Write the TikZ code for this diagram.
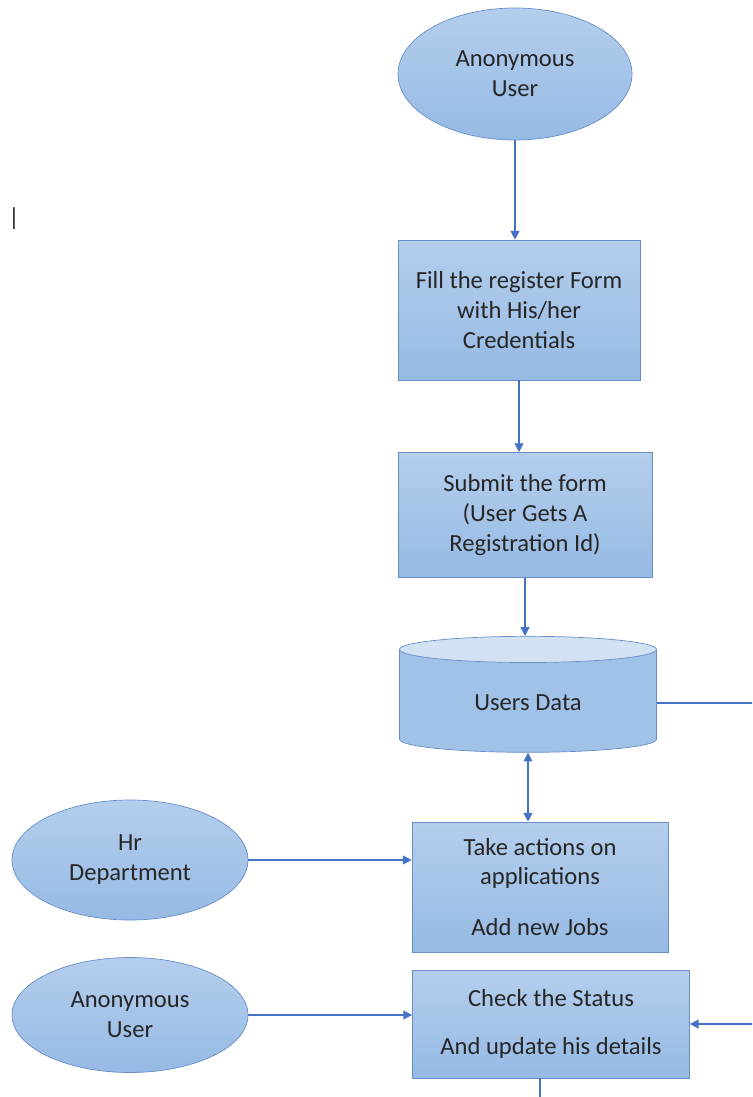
\documentclass[tikz,border=0pt]{standalone}
\usepackage{fontspec}
\setmainfont{Carlito}
\usepackage{xcolor}
\definecolor{flowblue}{RGB}{68,114,196}
\definecolor{boxline}{RGB}{104,142,200}
\definecolor{boxtop}{RGB}{180,206,236}
\definecolor{boxbot}{RGB}{150,186,228}
\definecolor{dbbody}{RGB}{160,194,232}
\definecolor{dbtop}{RGB}{210,226,243}
\definecolor{inkgrey}{RGB}{38,38,38}
\usetikzlibrary{shapes.geometric,arrows.meta,positioning,calc}
\tikzset{
  actor/.style={draw=boxline, ellipse, top color=boxtop, bottom color=boxbot, align=center, text=inkgrey},
  proc/.style={draw=boxline, rectangle, top color=boxtop, bottom color=boxbot, align=center, text=inkgrey},
  store/.style={draw=boxline, cylinder, shape border rotate=90, aspect=0.22, cylinder uses custom fill, cylinder body fill=dbbody, cylinder end fill=dbtop, align=center, text=inkgrey},
  arr/.style={-{Triangle[length=5pt,width=5pt]}, draw=flowblue, line width=0.9pt},
  darr/.style={{Triangle[length=5pt,width=5pt]}-{Triangle[length=5pt,width=5pt]}, draw=flowblue, line width=0.9pt},
  link/.style={draw=flowblue, line width=0.9pt}
}

\begin{document}
\begin{tikzpicture}[every node/.style={font=\fontsize{14}{17}\selectfont}]
  \useasboundingbox (0,0) rectangle (15.04,-21.94);
  \clip (0,0) rectangle (15.04,-21.94);
  \node[actor, minimum width=4.68cm, minimum height=2.64cm] (user) at (10.30,-1.48) {Anonymous\\User};
  \node[inkgrey, inner sep=0pt] (cursor) at (0.28,-4.38) {|};
  \node[proc, minimum width=4.84cm, minimum height=2.80cm] (fill) at (10.38,-6.20) {Fill the register Form\\with His/her\\Credentials};
  \node[proc, minimum width=5.08cm, minimum height=2.50cm] (submit) at (10.50,-10.30) {Submit the form\\(User Gets A\\Registration Id)};
  \node[store, minimum width=5.14cm, minimum height=2.32cm] (db) at (10.56,-14.06) {Users Data};
  \node[actor, minimum width=4.72cm, minimum height=2.40cm] (hr) at (2.60,-17.20) {Hr\\Department};
  \node[proc, minimum width=5.12cm, minimum height=2.60cm] (take) at (10.80,-17.74) {Take actions on\\applications\\[0.42cm]Add new Jobs};
  \node[actor, minimum width=4.72cm, minimum height=2.30cm] (anon) at (2.60,-20.30) {Anonymous\\User};
  \node[proc, minimum width=5.54cm, minimum height=2.16cm] (check) at (11.02,-20.48) {Check the Status\\[0.36cm]And update his details};
  \path (check.east) ++(1.6,0) coordinate (rim);
  \path ([xshift=-0.22cm]check.south) ++(0,-0.6) coordinate (out);
  \draw[arr] (user.south) -- (user.south |- fill.north);
  \draw[arr] (fill.south) -- (fill.south |- submit.north);
  \draw[arr] (submit.south) -- (submit.south |- db.north);
  \draw[darr] (db.south) -- (db.south |- take.north);
  \draw[arr] (hr.east) -- (hr.east -| take.west);
  \draw[arr] (anon.east) -- (anon.east -| check.west);
  \draw[arr] (db.east) -| (rim) -- (check.east);
  \draw[link] ([xshift=-0.22cm]check.south) -- (out);
\end{tikzpicture}
\end{document}
